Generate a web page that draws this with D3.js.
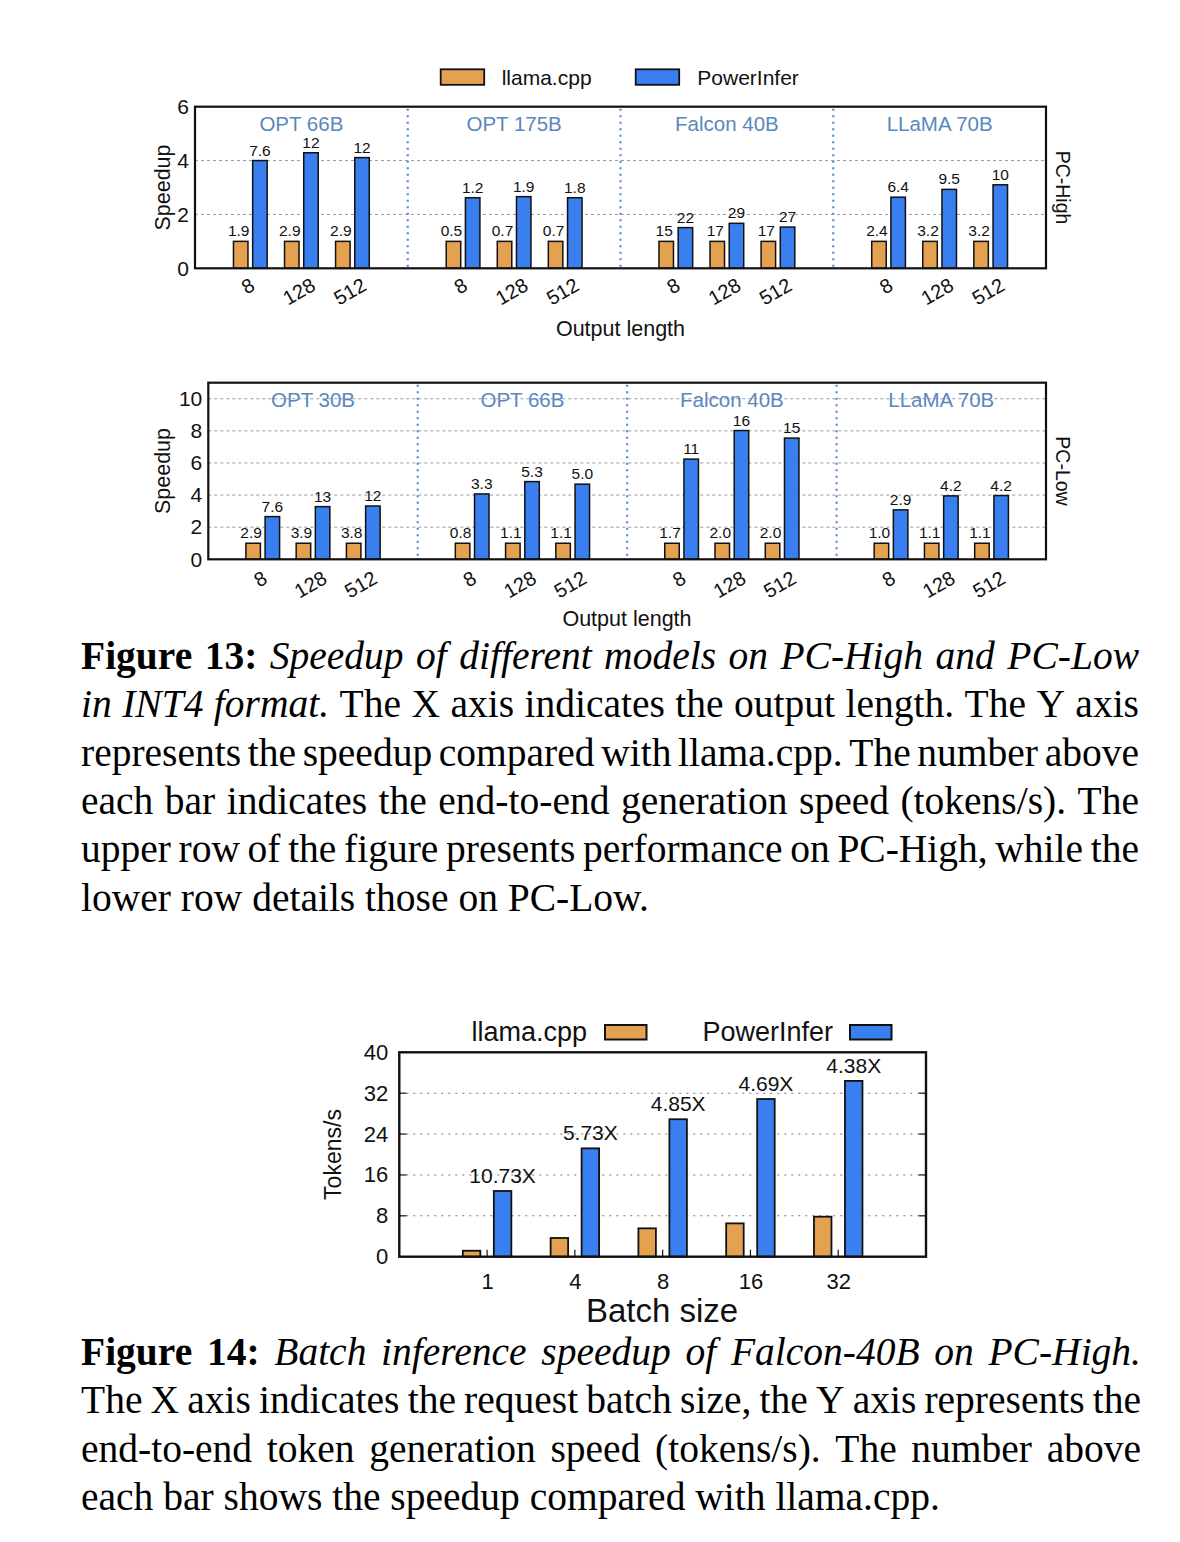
<!DOCTYPE html>
<html><head><meta charset="utf-8">
<script src="https://cdn.jsdelivr.net/npm/d3@7"></script>
<style>body{margin:0;background:#fff}svg{display:block}</style>
</head><body>
<svg id="c" width="1180" height="1542"></svg>
<script>
// ---------------- DATA ----------------
const outputLengths = ["8", "128", "512"];
const seriesNames = ["llama.cpp", "PowerInfer"];

const pcHighModels = ["OPT 66B", "OPT 175B", "Falcon 40B", "LLaMA 70B"];
const pcHighLlamaSpeedup = [1, 1, 1, 1, 1, 1, 1, 1, 1, 1, 1, 1];
const pcHighPowerInferSpeedup = [4.0, 4.29, 4.11, 2.62, 2.66, 2.62, 1.51, 1.67, 1.53, 2.64, 2.93, 3.10];
const pcHighLlamaTokens = ["1.9", "2.9", "2.9", "0.5", "0.7", "0.7", "15", "17", "17", "2.4", "3.2", "3.2"];
const pcHighPowerInferTokens = ["7.6", "12", "12", "1.2", "1.9", "1.8", "22", "29", "27", "6.4", "9.5", "10"];
const pcHighYTicks = [0, 2, 4, 6];

const pcLowModels = ["OPT 30B", "OPT 66B", "Falcon 40B", "LLaMA 70B"];
const pcLowLlamaSpeedup = [1, 1, 1, 1, 1, 1, 1, 1, 1, 1, 1, 1];
const pcLowPowerInferSpeedup = [2.66, 3.28, 3.32, 4.07, 4.84, 4.68, 6.24, 8.02, 7.55, 3.08, 3.95, 3.97];
const pcLowLlamaTokens = ["2.9", "3.9", "3.8", "0.8", "1.1", "1.1", "1.7", "2.0", "2.0", "1.0", "1.1", "1.1"];
const pcLowPowerInferTokens = ["7.6", "13", "12", "3.3", "5.3", "5.0", "11", "16", "15", "2.9", "4.2", "4.2"];
const pcLowYTicks = [0, 2, 4, 6, 8, 10];

const batchSizes = ["1", "4", "8", "16", "32"];
const batchLlamaTokens = [1.17, 3.66, 5.55, 6.52, 7.83];
const batchPowerInferTokens = [12.86, 21.2, 26.9, 30.86, 34.4];
const batchSpeedupLabels = ["10.73X", "5.73X", "4.85X", "4.69X", "4.38X"];
const batchYTicks = [0, 8, 16, 24, 32, 40];

const caption13 = [
  { justify: true, segs: [["b", "Figure 13:"], ["i", "Speedup of different models on PC-High and PC-Low"]] },
  { justify: true, segs: [["i", "in INT4 format."], ["r", "The X axis indicates the output length. The Y axis"]] },
  { justify: true, segs: [["r", "represents the speedup compared with llama.cpp. The number above"]] },
  { justify: true, segs: [["r", "each bar indicates the end-to-end generation speed (tokens/s). The"]] },
  { justify: true, segs: [["r", "upper row of the figure presents performance on PC-High, while the"]] },
  { justify: false, segs: [["r", "lower row details those on PC-Low."]] }
];
const caption14 = [
  { justify: true, segs: [["b", "Figure 14:"], ["i", "Batch inference speedup of Falcon-40B on PC-High."]] },
  { justify: true, segs: [["r", "The X axis indicates the request batch size, the Y axis represents the"]] },
  { justify: true, segs: [["r", "end-to-end token generation speed (tokens/s). The number above"]] },
  { justify: false, segs: [["r", "each bar shows the speedup compared with llama.cpp."]] }
];

// ---------------- STYLE ----------------
const SANS = "'Liberation Sans', Arial, Helvetica, sans-serif";
const SERIF = "'Liberation Serif', 'Times New Roman', serif";
const ORANGE = "#E4A250", BLUE = "#3A7FF0";
const TITLE_BLUE = "#5A87BE", DIV_BLUE = "#5B8BC6";
const colors = d3.scaleOrdinal().domain(seriesNames).range([ORANGE, BLUE]);

const svg = d3.select("#c");
svg.append("rect").attr("width", 1180).attr("height", 1542).attr("fill", "#fff");

// ---------------- FIGURE 13 PANELS ----------------
function drawPanelChart(cfg) {
  const { left, right, top, bottom, yMax, yTicks, models, llamaSpeed, piSpeed,
          llamaLbl, piLbl, sideLabel, xLabelY, xLabelX, tickTopOff } = cfg;
  const g = svg.append("g");
  const y = d3.scaleLinear().domain([0, yMax]).range([bottom, top]);
  const panel = d3.scaleBand().domain(models).range([left, right]);
  const pw = panel.bandwidth();
  const grp = d3.scalePoint().domain(outputLengths).range([0.26 * pw, 0.74 * pw]);
  const barW = 14.5, off = 9.6;

  // grid
  g.selectAll(".grid").data(yTicks.filter(t => t > 0 && t < yMax)).join("line")
    .attr("x1", left).attr("x2", right).attr("y1", d => y(d)).attr("y2", d => y(d))
    .attr("stroke", "#9a9a9a").attr("stroke-width", 1).attr("stroke-dasharray", "3,3");
  // dividers
  g.selectAll(".divl").data(models.slice(1)).join("line")
    .attr("x1", d => panel(d)).attr("x2", d => panel(d)).attr("y1", top + 2).attr("y2", bottom)
    .attr("stroke", DIV_BLUE).attr("stroke-width", 2.2).attr("stroke-dasharray", "2,4.5");
  // panel titles
  g.selectAll(".ttl").data(models).join("text")
    .attr("x", d => panel(d) + pw / 2).attr("y", top + 17)
    .attr("dominant-baseline", "central").attr("text-anchor", "middle")
    .attr("font-family", SANS).attr("font-size", 20.5).attr("fill", TITLE_BLUE).text(d => d);

  const rows = [];
  models.forEach((m, mi) => outputLengths.forEach((o, oi) => {
    const k = mi * 3 + oi;
    rows.push({ m, o, ls: llamaSpeed[k], ps: piSpeed[k], ll: llamaLbl[k], pl: piLbl[k] });
  }));
  const cx = d => panel(d.m) + grp(d.o);

  g.selectAll(".bl").data(rows).join("rect")
    .attr("x", d => cx(d) - off - barW / 2).attr("width", barW)
    .attr("y", d => y(d.ls)).attr("height", d => bottom - y(d.ls))
    .attr("fill", colors("llama.cpp")).attr("stroke", "#111").attr("stroke-width", 1.5);
  g.selectAll(".bp").data(rows).join("rect")
    .attr("x", d => cx(d) + off - barW / 2).attr("width", barW)
    .attr("y", d => y(d.ps)).attr("height", d => bottom - y(d.ps))
    .attr("fill", colors("PowerInfer")).attr("stroke", "#111").attr("stroke-width", 1.5);

  g.selectAll(".tl").data(rows).join("text")
    .attr("x", d => cx(d) - off - 2).attr("y", d => y(d.ls) - 5)
    .attr("text-anchor", "middle").attr("font-family", SANS).attr("font-size", 15.5)
    .attr("fill", "#111").text(d => d.ll);
  g.selectAll(".tp").data(rows).join("text")
    .attr("x", d => cx(d) + off).attr("y", d => y(d.ps) - 5)
    .attr("text-anchor", "middle").attr("font-family", SANS).attr("font-size", 15.5)
    .attr("fill", "#111").text(d => d.pl);

  // y axis
  const ya = g.append("g").attr("transform", `translate(${left},0)`)
    .call(d3.axisLeft(y).tickValues(yTicks).tickFormat(d3.format("d")).tickSize(0).tickPadding(6));
  ya.select(".domain").remove();
  ya.selectAll("text").attr("font-family", SANS).attr("font-size", 21).attr("fill", "#111");

  // x tick labels (rotated)
  const xt = g.selectAll(".xt").data(rows).join("text")
    .attr("text-anchor", "middle").attr("dominant-baseline", "central")
    .attr("font-family", SANS).attr("font-size", 20).attr("fill", "#111").text(d => d.o);
  xt.each(function (d) {
    const w = this.getComputedTextLength();
    const hh = (w * 0.5 + 14.5 * 0.866) / 2;
    const px = cx(d) - 2.5, py = bottom + tickTopOff + hh;
    d3.select(this).attr("transform", `translate(${px},${py}) rotate(-30)`);
  });

  // border
  g.append("rect").attr("x", left).attr("y", top).attr("width", right - left).attr("height", bottom - top)
    .attr("fill", "none").attr("stroke", "#111").attr("stroke-width", 2.2);

  // labels
  g.append("text").attr("transform", `translate(163,${(top + bottom) / 2}) rotate(-90)`)
    .attr("text-anchor", "middle").attr("dominant-baseline", "central")
    .attr("font-family", SANS).attr("font-size", 21.5).attr("fill", "#111").text("Speedup");
  g.append("text").attr("x", xLabelX).attr("y", xLabelY).attr("text-anchor", "middle")
    .attr("font-family", SANS).attr("font-size", 21.5).attr("fill", "#111").text("Output length");
  g.append("text").attr("transform", `translate(1063,${(top + bottom) / 2}) rotate(90)`)
    .attr("text-anchor", "middle").attr("dominant-baseline", "central")
    .attr("font-family", SANS).attr("font-size", 19.5).attr("fill", "#111").text(sideLabel);
}

// legend for figure 13
const leg13 = svg.append("g");
[{ n: "llama.cpp", bx: 440.7, tx: 501.7 }, { n: "PowerInfer", bx: 635.7, tx: 697.3 }].forEach(d => {
  leg13.append("rect").attr("x", d.bx).attr("y", 69.3).attr("width", 43.5).attr("height", 15.5)
    .attr("fill", colors(d.n)).attr("stroke", "#111").attr("stroke-width", 1.8);
  leg13.append("text").attr("x", d.tx).attr("y", 77.2).attr("dominant-baseline", "central")
    .attr("font-family", SANS).attr("font-size", 21).attr("fill", "#111").text(d.n);
});

drawPanelChart({
  left: 195, right: 1046, top: 106.7, bottom: 268.3, yMax: 6, yTicks: pcHighYTicks,
  models: pcHighModels, llamaSpeed: pcHighLlamaSpeedup, piSpeed: pcHighPowerInferSpeedup,
  llamaLbl: pcHighLlamaTokens, piLbl: pcHighPowerInferTokens, sideLabel: "PC-High",
  xLabelX: 620.5, xLabelY: 336, tickTopOff: 8.5
});
drawPanelChart({
  left: 208.3, right: 1046, top: 382.7, bottom: 559.3, yMax: 11, yTicks: pcLowYTicks,
  models: pcLowModels, llamaSpeed: pcLowLlamaSpeedup, piSpeed: pcLowPowerInferSpeedup,
  llamaLbl: pcLowLlamaTokens, piLbl: pcLowPowerInferTokens, sideLabel: "PC-Low",
  xLabelX: 627, xLabelY: 626, tickTopOff: 10.5
});

// ---------------- FIGURE 14 ----------------
(function () {
  const left = 399.3, right = 926, top = 1052.3, bottom = 1256.7;
  const g = svg.append("g");
  const y = d3.scaleLinear().domain([0, 40]).range([bottom, top]);
  const x = d3.scalePoint().domain(batchSizes).range([left, right]).padding(1);
  const barW = 17.5, off = 15.5;

  g.selectAll(".grid").data(batchYTicks.filter(t => t > 0 && t < 40)).join("line")
    .attr("x1", left).attr("x2", right).attr("y1", d => y(d)).attr("y2", d => y(d))
    .attr("stroke", "#777").attr("stroke-width", 1.1).attr("stroke-dasharray", "2,5");
  // inward ticks left/right
  g.selectAll(".tkl").data(batchYTicks).join("line")
    .attr("x1", left).attr("x2", left + 7).attr("y1", d => y(d)).attr("y2", d => y(d))
    .attr("stroke", "#111").attr("stroke-width", 1.2);
  g.selectAll(".tkr").data(batchYTicks).join("line")
    .attr("x1", right - 7).attr("x2", right).attr("y1", d => y(d)).attr("y2", d => y(d))
    .attr("stroke", "#111").attr("stroke-width", 1.2);
  g.selectAll(".tkx").data(batchSizes).join("line")
    .attr("x1", d => x(d)).attr("x2", d => x(d)).attr("y1", bottom).attr("y2", bottom - 7)
    .attr("stroke", "#111").attr("stroke-width", 1.2);

  const rows = batchSizes.map((b, i) => ({ b, l: batchLlamaTokens[i], p: batchPowerInferTokens[i], s: batchSpeedupLabels[i] }));
  g.selectAll(".bl").data(rows).join("rect")
    .attr("x", d => x(d.b) - off - barW / 2).attr("width", barW)
    .attr("y", d => y(d.l)).attr("height", d => bottom - y(d.l))
    .attr("fill", colors("llama.cpp")).attr("stroke", "#111").attr("stroke-width", 1.8);
  g.selectAll(".bp").data(rows).join("rect")
    .attr("x", d => x(d.b) + off - barW / 2).attr("width", barW)
    .attr("y", d => y(d.p)).attr("height", d => bottom - y(d.p))
    .attr("fill", colors("PowerInfer")).attr("stroke", "#111").attr("stroke-width", 1.8);
  g.selectAll(".sl").data(rows).join("text")
    .attr("x", d => x(d.b) + off).attr("y", d => y(d.p) - 8)
    .attr("text-anchor", "middle").attr("font-family", SANS).attr("font-size", 21)
    .attr("fill", "#111").text(d => d.s);

  const ya = g.append("g").attr("transform", `translate(${left},0)`)
    .call(d3.axisLeft(y).tickValues(batchYTicks).tickSize(0).tickPadding(11));
  ya.select(".domain").remove();
  ya.selectAll("text").attr("font-family", SANS).attr("font-size", 22).attr("fill", "#111");

  const xa = g.append("g").attr("transform", `translate(0,${bottom})`)
    .call(d3.axisBottom(x).tickSize(0).tickPadding(17));
  xa.select(".domain").remove();
  xa.selectAll("text").attr("font-family", SANS).attr("font-size", 22).attr("fill", "#111");

  g.append("rect").attr("x", left).attr("y", top).attr("width", right - left).attr("height", bottom - top)
    .attr("fill", "none").attr("stroke", "#111").attr("stroke-width", 2.4);

  g.append("text").attr("transform", `translate(333,${(top + bottom) / 2}) rotate(-90)`)
    .attr("text-anchor", "middle").attr("dominant-baseline", "central")
    .attr("font-family", SANS).attr("font-size", 23).attr("fill", "#111").text("Tokens/s");
  g.append("text").attr("x", 662).attr("y", 1322).attr("text-anchor", "middle")
    .attr("font-family", SANS).attr("font-size", 33).attr("fill", "#111").text("Batch size");

  [{ n: "llama.cpp", tx: 587, bx: 605 }, { n: "PowerInfer", tx: 833, bx: 850 }].forEach(d => {
    g.append("text").attr("x", d.tx).attr("y", 1032).attr("text-anchor", "end").attr("dominant-baseline", "central")
      .attr("font-family", SANS).attr("font-size", 27).attr("fill", "#111").text(d.n);
    g.append("rect").attr("x", d.bx).attr("y", 1025).attr("width", 41.5).attr("height", 14.5)
      .attr("fill", colors(d.n)).attr("stroke", "#111").attr("stroke-width", 2);
  });
})();

// ---------------- CAPTIONS ----------------
function caption(lines, x0, x1, y0, lh, size) {
  lines.forEach((line, li) => {
    const words = [];
    line.segs.forEach(([st, txt]) => txt.split(" ").filter(s => s).forEach(w => words.push({ st, w })));
    const yy = y0 + li * lh;
    const nodes = words.map(d => svg.append("text").attr("y", yy)
      .attr("font-family", SERIF).attr("font-size", size).attr("fill", "#000")
      .attr("font-weight", d.st === "b" ? "bold" : "normal")
      .attr("font-style", d.st === "i" ? "italic" : "normal").text(d.w));
    const widths = nodes.map(n => n.node().getComputedTextLength());
    const total = d3.sum(widths);
    const gap = (line.justify && words.length > 1) ? (x1 - x0 - total) / (words.length - 1) : size * 0.25;
    let xx = x0;
    nodes.forEach((n, i) => { n.attr("x", xx); xx += widths[i] + gap; });
  });
}
caption(caption13, 81, 1139, 669, 48.3, 39.5);
caption(caption14, 81, 1141, 1365, 48.3, 39.5);
</script>
</body></html>
